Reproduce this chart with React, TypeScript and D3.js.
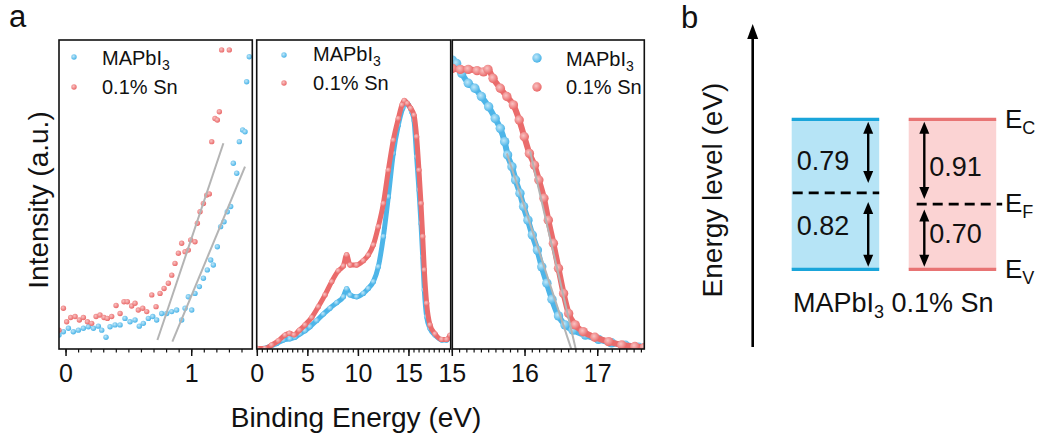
import React, { useEffect, useRef } from "react";
import * as d3 from "d3";

const BLUE = "#4db5e8";
const RED = "#ea6b6b";
const FONT = "'Liberation Sans', Arial, Helvetica, sans-serif";

// panel a, left: onset region  [binding energy (eV), intensity]
const onsetPristine = [
  [-0.056, 0.045], [-0.021, 0.056], [0.019, 0.067], [0.058, 0.056], [0.098, 0.061],
  [0.138, 0.067], [0.178, 0.072], [0.218, 0.067], [0.257, 0.074], [0.284, 0.061],
  [0.318, 0.038], [0.35, 0.072], [0.39, 0.078], [0.43, 0.078], [0.469, 0.099],
  [0.509, 0.088], [0.549, 0.094], [0.583, 0.074], [0.615, 0.083], [0.655, 0.099],
  [0.69, 0.105], [0.721, 0.094], [0.761, 0.115], [0.801, 0.115], [0.841, 0.121],
  [0.88, 0.126], [0.92, 0.094], [0.947, 0.132], [0.973, 0.169], [1.0, 0.126],
  [1.026, 0.18], [1.061, 0.202], [1.093, 0.229], [1.124, 0.256], [1.151, 0.288],
  [1.172, 0.272], [1.204, 0.331], [1.23, 0.396], [1.257, 0.412], [1.283, 0.444],
  [1.31, 0.461], [1.331, 0.601], [1.358, 0.569], [1.379, 0.671], [1.405, 0.709],
  [1.424, 0.703], [1.437, 0.865], [1.458, 0.946]
];
const onsetSn = [
  [-0.056, 0.061], [-0.021, 0.132], [0.005, 0.088], [0.037, 0.102], [0.072, 0.105],
  [0.106, 0.094], [0.138, 0.102], [0.17, 0.088], [0.204, 0.083], [0.239, 0.105],
  [0.27, 0.11], [0.302, 0.102], [0.329, 0.099], [0.363, 0.105], [0.398, 0.141],
  [0.43, 0.115], [0.461, 0.153], [0.488, 0.153], [0.522, 0.139], [0.549, 0.148],
  [0.575, 0.126], [0.61, 0.132], [0.642, 0.121], [0.682, 0.175], [0.716, 0.137],
  [0.748, 0.18], [0.78, 0.196], [0.814, 0.213], [0.841, 0.239], [0.867, 0.277],
  [0.894, 0.31], [0.92, 0.342], [0.947, 0.315], [0.973, 0.32], [0.992, 0.353],
  [1.026, 0.347], [1.045, 0.407], [1.066, 0.444], [1.093, 0.471], [1.119, 0.498],
  [1.14, 0.502], [1.159, 0.671], [1.185, 0.746], [1.204, 0.741], [1.22, 0.768],
  [1.238, 0.968], [1.299, 0.968]
];
const onsetFitPristine = [[0.846, 0.024], [1.424, 0.59]];
const onsetFitSn = [[0.727, 0.029], [1.252, 0.666]];

// panel a, middle: full spectrum
const fullPristine = [
  [0.0, 0.002], [0.6, 0.002], [1.26, 0.008], [1.92, 0.018], [2.57, 0.029], [3.23, 0.033],
  [3.73, 0.038], [4.22, 0.049], [4.72, 0.059], [5.21, 0.072], [5.87, 0.092], [6.53, 0.113],
  [7.19, 0.132], [7.85, 0.15], [8.51, 0.169], [8.84, 0.195], [9.17, 0.175], [9.83, 0.169],
  [10.49, 0.18], [10.98, 0.196], [11.48, 0.218], [11.97, 0.266], [12.47, 0.364],
  [12.96, 0.493], [13.45, 0.633], [13.95, 0.725], [14.38, 0.779], [14.64, 0.8],
  [14.94, 0.79], [15.27, 0.768], [15.5, 0.741], [15.76, 0.622], [15.99, 0.515],
  [16.19, 0.407], [16.36, 0.299], [16.52, 0.191], [16.75, 0.105], [17.08, 0.067],
  [17.58, 0.045], [18.24, 0.029], [18.73, 0.029], [19.06, 0.04]
];
const fullSn = [
  [0.0, 0.002], [0.76, 0.002], [1.42, 0.013], [2.08, 0.027], [2.74, 0.045], [3.17, 0.051],
  [3.63, 0.046], [4.16, 0.061], [4.72, 0.078], [5.38, 0.102], [6.04, 0.137], [6.7, 0.175],
  [7.36, 0.218], [8.01, 0.253], [8.51, 0.269], [8.84, 0.305], [9.17, 0.272], [9.83, 0.272],
  [10.49, 0.286], [10.98, 0.304], [11.48, 0.337], [11.97, 0.396], [12.47, 0.471],
  [12.96, 0.579], [13.45, 0.676], [13.95, 0.746], [14.31, 0.79], [14.54, 0.804],
  [14.84, 0.795], [15.17, 0.779], [15.5, 0.757], [15.76, 0.687], [15.99, 0.579],
  [16.19, 0.471], [16.36, 0.364], [16.52, 0.256], [16.75, 0.148], [17.08, 0.078],
  [17.58, 0.049], [18.24, 0.031], [18.73, 0.031], [19.06, 0.045]
];

// panel a, right: secondary electron cutoff
const cutoffPristine = [
  [15.0, 0.935], [15.06, 0.924], [15.13, 0.892], [15.22, 0.86], [15.31, 0.844], [15.4, 0.817],
  [15.5, 0.784], [15.59, 0.746], [15.66, 0.714], [15.72, 0.671], [15.76, 0.628], [15.82, 0.59],
  [15.87, 0.547], [15.93, 0.504], [15.98, 0.461], [16.04, 0.417], [16.1, 0.369], [16.17, 0.32],
  [16.23, 0.266], [16.3, 0.213], [16.37, 0.161], [16.46, 0.107], [16.55, 0.078], [16.66, 0.061],
  [16.83, 0.045], [17.01, 0.031], [17.19, 0.02], [17.38, 0.012], [17.56, 0.006], [17.64, 0.002]
];
const cutoffSn = [
  [15.0, 0.908], [15.11, 0.905], [15.22, 0.905], [15.34, 0.901], [15.43, 0.897], [15.49, 0.905],
  [15.56, 0.876], [15.66, 0.844], [15.75, 0.817], [15.84, 0.79], [15.92, 0.741], [15.99, 0.687],
  [16.06, 0.633], [16.13, 0.595], [16.19, 0.547], [16.26, 0.488], [16.32, 0.417], [16.39, 0.342],
  [16.46, 0.261], [16.53, 0.18], [16.6, 0.115], [16.69, 0.078], [16.8, 0.056], [16.96, 0.038],
  [17.15, 0.024], [17.33, 0.013], [17.51, 0.008], [17.64, 0.005]
];
const cutoffFitPristine = [[15.75, 0.633], [16.64, -0.003]];
const cutoffFitSn = [[16.07, 0.639], [16.7, -0.003]];

const ticks1 = [0, 1];
const ticks2 = [0, 5, 10, 15];
const ticks3 = [15, 16, 17];

// panel b: energy levels (eV)
const samples = ["MAPbI3", "0.1% Sn"];
const cbToFermi = [0.79, 0.91];
const fermiToVb = [0.82, 0.7];

function App() {
  const svgRef = useRef();

  useEffect(() => {
    const svg = d3.select(svgRef.current);
    svg.selectAll("*").remove();

    const defs = svg.append("defs");
    [["gBlue", "#bfe7f9", BLUE], ["gRed", "#f9c3c3", RED]].forEach(([id, c0, c1]) => {
      const g = defs.append("radialGradient").attr("id", id).attr("cx", "40%").attr("cy", "38%").attr("r", "60%");
      g.append("stop").attr("offset", "0%").attr("stop-color", c0);
      g.append("stop").attr("offset", "100%").attr("stop-color", c1);
    });

    const top = 40, bottom = 349;
    const y = d3.scaleLinear().domain([0, 1]).range([bottom, top]);

    const panels = [
      { id: "p1", x0: 59, x1: 252.3, domain: [-0.056, 1.482], ticks: ticks1, minor: 0.1, r: 2.7, lw: 0,
        series: [onsetPristine, onsetSn], fits: [onsetFitPristine, onsetFitSn],
        leg: { mx: 74, my: [57, 87], tx: 102, ty: [65, 94], r: 2.7 } },
      { id: "p2", x0: 256.7, x1: 450.7, domain: [-0.06, 19.13], ticks: ticks2, minor: 0.5, r: 2.7, lw: 5,
        series: [fullPristine, fullSn], fits: [],
        leg: { mx: 284, my: [55, 83], tx: 313, ty: [61, 90], r: 2.7 } },
      { id: "p3", x0: 452.3, x1: 644.3, domain: [15, 17.64], ticks: ticks3, minor: 0.1, r: 4.7, lw: 6,
        series: [cutoffPristine, cutoffSn], fits: [cutoffFitPristine, cutoffFitSn],
        leg: { mx: 537, my: [58, 87], tx: 566, ty: [66, 94], r: 4.7 } }
    ];
    const colors = [BLUE, RED];
    const grads = ["url(#gBlue)", "url(#gRed)"];

    panels.forEach(p => {
      const x = d3.scaleLinear().domain(p.domain).range([p.x0, p.x1]);
      defs.append("clipPath").attr("id", "clip-" + p.id)
        .append("rect").attr("x", p.x0).attr("y", top).attr("width", p.x1 - p.x0).attr("height", bottom - top);
      const g = svg.append("g").attr("clip-path", `url(#clip-${p.id})`);
      const line = d3.line().x(d => x(d[0])).y(d => y(d[1])).curve(d3.curveMonotoneX);

      p.series.forEach((s, i) => {
        if (p.lw > 0) {
          g.append("path").datum(s).attr("d", line).attr("fill", "none")
            .attr("stroke", colors[i]).attr("stroke-width", p.lw).attr("stroke-linejoin", "round");
        }
        g.selectAll(".dot" + i).data(s).join("circle").attr("class", "dot" + i)
          .attr("cx", d => x(d[0])).attr("cy", d => y(d[1])).attr("r", p.r).attr("fill", grads[i]);
      });

      p.fits.forEach(f => {
        g.append("path").datum(f).attr("d", d3.line().x(d => x(d[0])).y(d => y(d[1])))
          .attr("stroke", "#b4b4b4").attr("stroke-width", 2).attr("fill", "none");
      });

      // frame
      svg.append("rect").attr("x", p.x0).attr("y", top).attr("width", p.x1 - p.x0).attr("height", bottom - top)
        .attr("fill", "none").attr("stroke", "#111").attr("stroke-width", 1.6);

      // ticks
      const minorTicks = d3.range(Math.ceil(p.domain[0] / p.minor) * p.minor, p.domain[1], p.minor);
      svg.append("g").selectAll("line").data(minorTicks).join("line")
        .attr("x1", d => x(d)).attr("x2", d => x(d)).attr("y1", bottom).attr("y2", bottom + 3.5)
        .attr("stroke", "#111").attr("stroke-width", 1.2);
      svg.append("g").selectAll("line").data(p.ticks).join("line")
        .attr("x1", d => x(d)).attr("x2", d => x(d)).attr("y1", bottom).attr("y2", bottom + 7)
        .attr("stroke", "#111").attr("stroke-width", 1.5);
      svg.append("g").selectAll("text").data(p.ticks).join("text")
        .attr("x", d => x(d)).attr("y", 382).attr("text-anchor", "middle")
        .attr("font-size", 25).attr("font-family", FONT).attr("fill", "#111").text(d => d);

      // legend
      samples.forEach((name, i) => {
        svg.append("circle").attr("cx", p.leg.mx).attr("cy", p.leg.my[i]).attr("r", p.leg.r).attr("fill", grads[i]);
        const t = svg.append("text").attr("x", p.leg.tx).attr("y", p.leg.ty[i])
          .attr("font-size", 20).attr("font-family", FONT).attr("fill", "#111");
        if (name === "MAPbI3") {
          t.append("tspan").text("MAPbI");
          t.append("tspan").attr("font-size", 14).attr("dy", 5).text("3");
        } else {
          t.text(name);
        }
      });
    });

    // axis titles, panel a
    svg.append("text").attr("transform", "translate(48,200) rotate(-90)").attr("text-anchor", "middle")
      .attr("font-size", 28).attr("font-family", FONT).attr("fill", "#111").text("Intensity (a.u.)");
    svg.append("text").attr("x", 356).attr("y", 427).attr("text-anchor", "middle")
      .attr("font-size", 28).attr("font-family", FONT).attr("fill", "#111").text("Binding Energy (eV)");
    svg.append("text").attr("x", 9).attr("y", 27).attr("font-size", 31).attr("font-family", FONT)
      .attr("fill", "#111").text("a");
    svg.append("text").attr("x", 681).attr("y", 28).attr("font-size", 31).attr("font-family", FONT)
      .attr("fill", "#111").text("b");

    // panel b
    const ax = 752.7;
    svg.append("line").attr("x1", ax).attr("x2", ax).attr("y1", 347).attr("y2", 36)
      .attr("stroke", "#000").attr("stroke-width", 2.6);
    svg.append("path").attr("d", `M${ax},24 L${ax - 5.5},39 L${ax + 5.5},39 Z`).attr("fill", "#000");
    svg.append("text").attr("transform", "translate(722,190) rotate(-90)").attr("text-anchor", "middle")
      .attr("font-size", 28).attr("font-family", FONT).attr("fill", "#111").text("Energy level (eV)");

    const gap = cbToFermi[0] + fermiToVb[0];
    const yE = d3.scaleLinear().domain([0, gap]).range([269.3, 119.3]);
    const colX = [791.7, 908.7];
    const colW = 87.5;
    const fills = ["#b6e4f6", "#fbd3d3"];
    const edges = ["#1aa5da", "#e87474"];

    const arrow = (xa, ya, yb) => {
      const h = 12, w = 5;
      svg.append("line").attr("x1", xa).attr("x2", xa).attr("y1", ya + h - 1).attr("y2", yb - h + 1)
        .attr("stroke", "#000").attr("stroke-width", 2.4);
      svg.append("path").attr("d", `M${xa},${ya} L${xa - w},${ya + h} L${xa + w},${ya + h} Z`).attr("fill", "#000");
      svg.append("path").attr("d", `M${xa},${yb} L${xa - w},${yb - h} L${xa + w},${yb - h} Z`).attr("fill", "#000");
    };

    samples.forEach((name, i) => {
      const x0 = colX[i];
      const ef = yE(fermiToVb[i]);
      svg.append("rect").attr("x", x0).attr("y", yE(gap)).attr("width", colW).attr("height", yE(0) - yE(gap))
        .attr("fill", fills[i]);
      [gap, 0].forEach(v => {
        svg.append("line").attr("x1", x0).attr("x2", x0 + colW).attr("y1", yE(v)).attr("y2", yE(v))
          .attr("stroke", edges[i]).attr("stroke-width", 3.2);
      });
      const dashX = i === 0 ? [x0 + 1, x0 + colW] : [x0 + 8, x0 + colW + 6];
      svg.append("line").attr("x1", dashX[0]).attr("x2", dashX[1]).attr("y1", ef).attr("y2", ef)
        .attr("stroke", "#000").attr("stroke-width", 2.6).attr("stroke-dasharray", "10,6");

      const axX = i === 0 ? x0 + colW - 11 : x0 + 15.6;
      arrow(axX, yE(gap) + 2.5, ef - (i === 0 ? 10 : 5));
      arrow(axX, ef + (i === 0 ? 9 : 5.5), yE(0) - 2.5);

      const lx = i === 0 ? x0 + 5 : x0 + 20.5;
      svg.append("text").attr("x", lx).attr("y", (yE(gap) + ef) / 2 + 14)
        .attr("font-size", 27).attr("font-family", FONT).attr("fill", "#111").text(cbToFermi[i].toFixed(2));
      svg.append("text").attr("x", lx).attr("y", (ef + yE(0)) / 2 + (i === 0 ? 4 : 6))
        .attr("font-size", 27).attr("font-family", FONT).attr("fill", "#111").text(fermiToVb[i].toFixed(2));
    });

    const levelLabels = [["C", yE(gap) + 9], ["F", yE(fermiToVb[1]) + 8], ["V", yE(0) + 9]];
    levelLabels.forEach(([sub, yy]) => {
      const t = svg.append("text").attr("x", 1005).attr("y", yy).attr("font-size", 26)
        .attr("font-family", FONT).attr("fill", "#111");
      t.append("tspan").text("E");
      t.append("tspan").attr("font-size", 18).attr("dy", 6).text(sub);
    });

    const nm = svg.append("text").attr("x", 793).attr("y", 311.7).attr("font-size", 27)
      .attr("font-family", FONT).attr("fill", "#111");
    nm.append("tspan").text("MAPbI");
    nm.append("tspan").attr("font-size", 18).attr("dy", 6).text("3");
    nm.append("tspan").attr("dy", -6).text(" " + samples[1]);
  }, []);

  return (
    <div style={{ position: "absolute", left: 0, top: 0, background: "#fff" }}>
      <svg ref={svgRef} width={1045} height={439}></svg>
    </div>
  );
}

export default App;
